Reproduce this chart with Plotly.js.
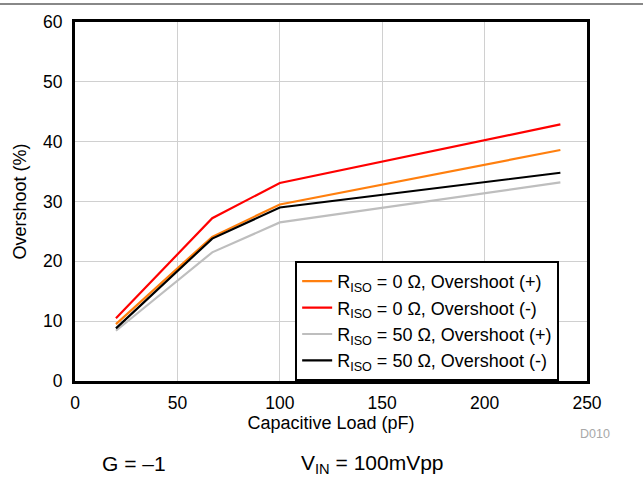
<!DOCTYPE html>
<html>
<head>
<meta charset="utf-8">
<script src="https://cdn.plot.ly/plotly-3.0.1.min.js"></script>
<style>html,body{margin:0;padding:0;background:#fff;}#chart{width:643px;height:485px;}</style>
</head>
<body>
<div id="chart"></div>
<script>
const capLoad = [20, 67, 100, 237];
const riso0Pos = [9.5, 24.1, 29.5, 38.6];
const riso0Neg = [10.5, 27.2, 33.1, 42.9];
const riso50Pos = [8.4, 21.5, 26.5, 33.2];
const riso50Neg = [8.8, 23.8, 29.0, 34.8];
const seriesNames = [
  'R<sub>ISO</sub> = 0 Ω, Overshoot (+)',
  'R<sub>ISO</sub> = 0 Ω, Overshoot (-)',
  'R<sub>ISO</sub> = 50 Ω, Overshoot (+)',
  'R<sub>ISO</sub> = 50 Ω, Overshoot (-)'
];
const xTicks = [0, 50, 100, 150, 200, 250];
const yTicks = [0, 10, 20, 30, 40, 50, 60];

const colors = ['#FF7F0E', '#FF0000', '#BEBEBE', '#000000'];
const ys = [riso0Pos, riso0Neg, riso50Pos, riso50Neg];
const font = 'Liberation Sans, Arial, Helvetica, sans-serif';

const traces = ys.map((y, i) => ({
  x: capLoad, y: y, name: seriesNames[i], type: 'scatter', mode: 'lines',
  line: {color: colors[i], width: 2.2}
}));

const layout = {
  width: 643, height: 485,
  margin: {l: 75, r: 56, t: 22, b: 104},
  paper_bgcolor: '#fff', plot_bgcolor: '#fff',
  font: {family: font, size: 17, color: '#000'},
  showlegend: true,
  xaxis: {
    range: [0, 250], tickvals: xTicks, ticktext: xTicks.map(String),
    showgrid: true, gridcolor: '#D0D0D0', gridwidth: 1,
    showline: true, linecolor: '#000', linewidth: 3, mirror: true,
    ticks: '', zeroline: false, tickfont: {size: 17.5}, ticklabelstandoff: 4,
    title: {text: 'Capacitive Load (pF)', font: {size: 18}, standoff: 3}
  },
  yaxis: {
    range: [0, 60], tickvals: yTicks, ticktext: yTicks.map(String),
    showgrid: true, gridcolor: '#D0D0D0', gridwidth: 1,
    showline: true, linecolor: '#000', linewidth: 3, mirror: true,
    ticks: '', zeroline: false, tickfont: {size: 17.5}, ticklabelstandoff: 6,
    title: {text: 'Overshoot (%)', font: {size: 18}, standoff: 12}
  },
  legend: {
    x: 0.430, y: 0, xanchor: 'left', yanchor: 'bottom',
    bgcolor: '#fff', bordercolor: '#000', borderwidth: 2,
    font: {size: 18}, tracegroupgap: 0
  },
  shapes: [
    {type: 'line', xref: 'paper', yref: 'paper', x0: -0.2, x1: 1.2, y0: 1.05, y1: 1.05,
     line: {color: '#888', width: 2}}
  ],
  annotations: [
    {text: 'G = –1', xref: 'paper', yref: 'paper', x: 0.116, y: -0.231, xanchor: 'center', yanchor: 'middle', showarrow: false, font: {size: 21}},
    {text: 'V<sub>IN</sub> = 100mVpp', xref: 'paper', yref: 'paper', x: 0.582, y: -0.231, xanchor: 'center', yanchor: 'middle', showarrow: false, font: {size: 21}},
    {text: 'D010', xref: 'paper', yref: 'paper', x: 1.016, y: -0.148, xanchor: 'center', yanchor: 'middle', showarrow: false, font: {size: 12.5, color: '#A8A8A8'}}
  ]
};

Plotly.newPlot('chart', traces, layout, {displayModeBar: false, staticPlot: true});
</script>
</body>
</html>
